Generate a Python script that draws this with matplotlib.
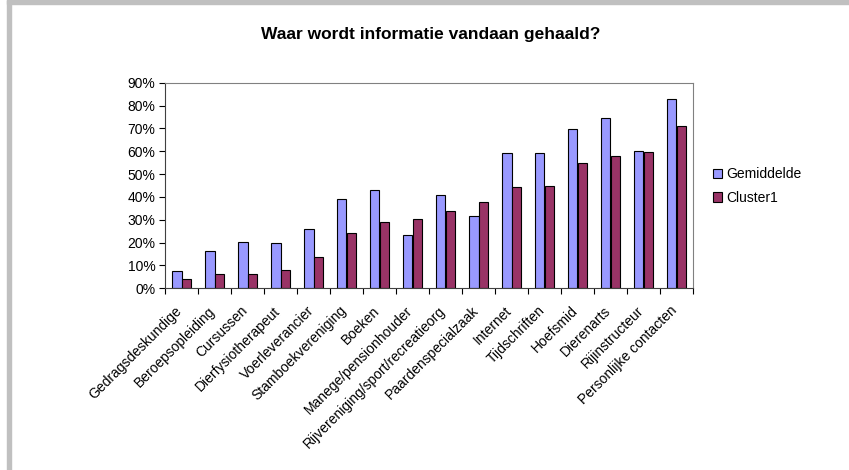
import numpy as np
import matplotlib
matplotlib.use('Agg')
import matplotlib.pyplot as plt
import matplotlib.transforms as mtransforms
from matplotlib.ticker import PercentFormatter
from matplotlib.patches import Rectangle

plt.rcParams['font.family'] = ['Liberation Sans', 'DejaVu Sans']

categories = ['Gedragsdeskundige', 'Beroepsopleiding', 'Cursussen', 'Dierfysiotherapeut',
              'Voerleverancier', 'Stamboekvereniging', 'Boeken', 'Manege/pensionhouder',
              'Rijvereniging/sport/recreatieorg', 'Paardenspecialzaak', 'Internet',
              'Tijdschriften', 'Hoefsmid', 'Dierenarts', 'Rijinstructeur', 'Personlijke contacten']
gemiddelde = [7.6, 16.2, 20.1, 19.7, 26.0, 38.9, 42.9, 23.5,
              40.8, 31.8, 59.4, 59.4, 69.7, 74.5, 59.9, 82.8]
cluster1 = [4.1, 6.4, 6.4, 7.9, 13.7, 24.1, 29.2, 30.2,
            33.7, 37.6, 44.5, 44.9, 54.7, 58.1, 59.5, 71.2]

fig = plt.figure(figsize=(8.49, 4.70), dpi=100)

# grey frame strips like the original screenshot
fig.patches.append(Rectangle((7/849, 0), 4/849, 1, transform=fig.transFigure,
                             color='#c0c0c0', zorder=0))
fig.patches.append(Rectangle((7/849, 1 - 4/470), 1, 4/470, transform=fig.transFigure,
                             color='#c0c0c0', zorder=0))

ax = fig.add_axes([165/849, 1 - 288.3/470, 528/849, (288.3 - 82.7)/470])

x = np.arange(len(categories))
w = 0.30
ax.bar(x - w/2, gemiddelde, w, color='#9999ff', edgecolor='black', linewidth=0.8, label='Gemiddelde')
ax.bar(x + w/2, cluster1, w, color='#993366', edgecolor='black', linewidth=0.8, label='Cluster1')

ax.set_xlim(-0.5, len(categories) - 0.5)
ax.set_ylim(0, 90)
ax.set_yticks(np.arange(0, 91, 10))
ax.yaxis.set_major_formatter(PercentFormatter(decimals=0))
ax.tick_params(axis='y', labelsize=10, length=4, width=0.8, colors='black', pad=3)

ax.set_xticks(np.arange(-0.5, len(categories), 1))
ax.set_xticklabels([])
ax.tick_params(axis='x', length=4, width=0.8)
ax.set_xticks(x, minor=True)
ax.set_xticklabels(categories, minor=True, rotation=45, ha='right', va='top',
                   rotation_mode='anchor', fontsize=10)
ax.tick_params(axis='x', which='minor', length=0, pad=6)
shift = mtransforms.ScaledTranslation(-7/100, -7/100, fig.dpi_scale_trans)
for lbl in ax.get_xticklabels(minor=True):
    lbl.set_transform(lbl.get_transform() + shift)

ax.spines['top'].set_color('#808080')
ax.spines['right'].set_color('#808080')
ax.spines['left'].set_color('#404040')
ax.spines['bottom'].set_color('#404040')

fig.text(431/849, 1 - 35/470, 'Waar wordt informatie vandaan gehaald?', ha='center', va='center',
         fontsize=12.5, fontweight='bold')

ax.legend(loc='center left', bbox_to_anchor=(707/849, 1 - 186/470), bbox_transform=fig.transFigure,
          frameon=False, fontsize=10, handlelength=0.7, handleheight=0.7, handletextpad=0.3,
          labelspacing=0.65, borderaxespad=0)

fig.savefig('out.png', dpi=100)
